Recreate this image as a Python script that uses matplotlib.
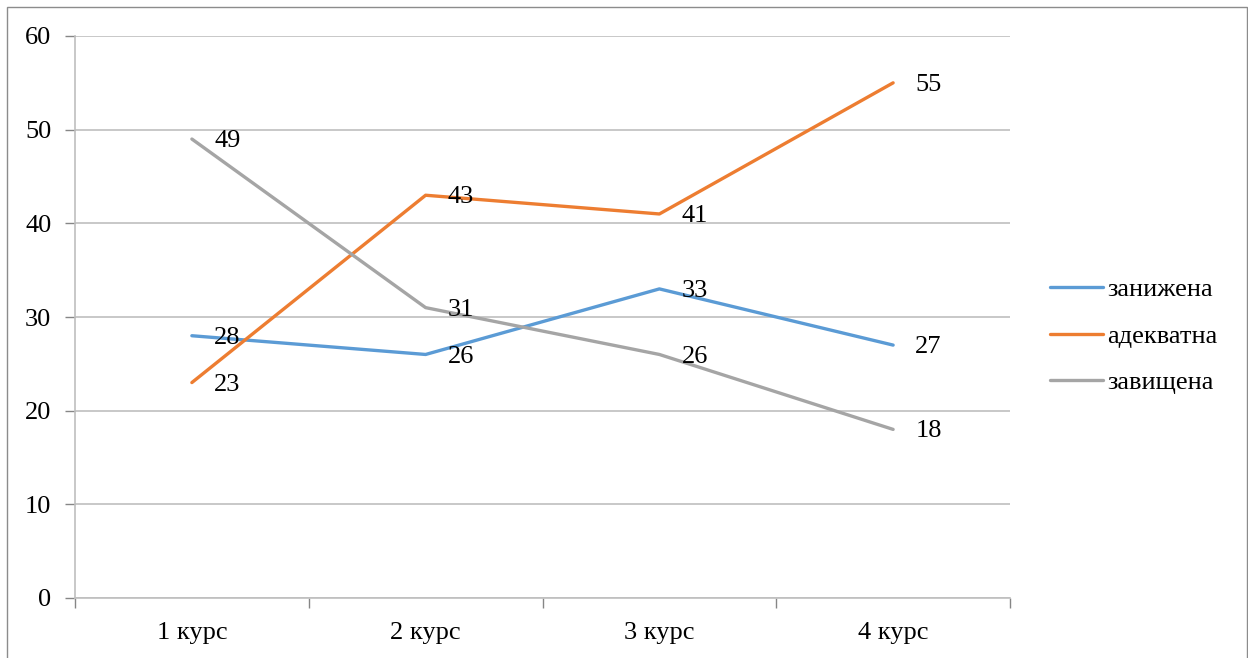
import matplotlib.pyplot as plt
from matplotlib.patches import Rectangle

courses = ['1 курс', '2 курс', '3 курс', '4 курс']
zanyzhena = [28, 26, 33, 27]
adekvatna = [23, 43, 41, 55]
zavyshchena = [49, 31, 26, 18]

series = [
    ('занижена', zanyzhena, '#5B9BD5'),
    ('адекватна', adekvatna, '#ED7D31'),
    ('завищена', zavyshchena, '#A5A5A5'),
]

plt.rcParams['font.family'] = ['Liberation Serif', 'DejaVu Serif']
FS = 19

W, H = 1248, 658
fig = plt.figure(figsize=(W / 100, H / 100), dpi=100)
ax = fig.add_axes([75 / W, 1 - 598 / H, 935 / W, 562 / H])

x = list(range(len(courses)))
for name, vals, col in series:
    ax.plot(x, vals, color=col, lw=2.4, label=name, solid_capstyle='round')
    for xi, v in zip(x, vals):
        ax.annotate(str(v), (xi, v), xytext=(16, -1.5), textcoords='offset points',
                    fontsize=FS, va='center', ha='left')

ax.set_xlim(-0.5, 3.5)
ax.set_ylim(0, 60)
ax.set_yticks(range(0, 61, 10))
ax.set_xticks(x)
ax.set_xticklabels(courses)
ax.set_xticks([-0.5, 0.5, 1.5, 2.5, 3.5], minor=True)
ax.tick_params(axis='x', which='major', length=0, pad=17, labelsize=FS)
ax.tick_params(axis='x', which='minor', length=7, color='#868686', width=1)
ax.tick_params(axis='y', length=7, color='#868686', width=1, pad=10, labelsize=FS)
ax.grid(axis='y', color='#BFBFBF', lw=1.2)
ax.set_axisbelow(True)
for s in ['top', 'right']:
    ax.spines[s].set_visible(False)
for s in ['left', 'bottom']:
    ax.spines[s].set_color('#BFBFBF')
    ax.spines[s].set_linewidth(1.2)

fig.legend(loc='center left', bbox_to_anchor=(1037 / W, 1 - 336 / H), frameon=False,
           fontsize=FS, handlelength=2.0, handletextpad=0.15, labelspacing=0.88,
           borderpad=0)

fig.patches.append(Rectangle((7 / W, -0.01), 1240 / W, 1 - 7 / H + 0.01,
                             transform=fig.transFigure, fill=False,
                             edgecolor='#8C8C8C', lw=1))

fig.savefig('out.png', dpi=100)
